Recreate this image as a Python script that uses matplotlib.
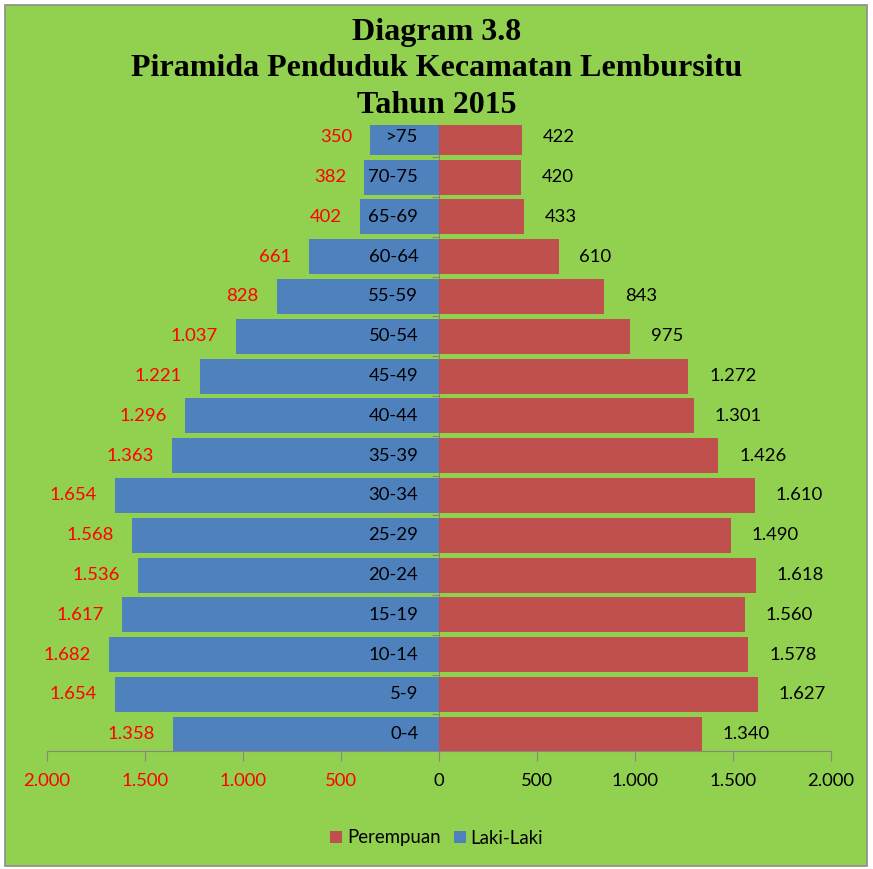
import matplotlib
matplotlib.use('Agg')
import matplotlib.pyplot as plt
from matplotlib.patches import Rectangle, Patch
import numpy as np

# data
ages = ['0-4', '5-9', '10-14', '15-19', '20-24', '25-29', '30-34', '35-39',
        '40-44', '45-49', '50-54', '55-59', '60-64', '65-69', '70-75', '>75']
laki = [1358, 1654, 1682, 1617, 1536, 1568, 1654, 1363, 1296, 1221, 1037, 828, 661, 402, 382, 350]
perempuan = [1340, 1627, 1578, 1560, 1618, 1490, 1610, 1426, 1301, 1272, 975, 843, 610, 433, 420, 422]
x_ticks = [-2000, -1500, -1000, -500, 0, 500, 1000, 1500, 2000]

BLUE = '#4F81BD'
RED = '#C0504D'
GREEN = '#92D050'
GRAY = '#868686'
FS = 13.3

plt.rcParams['font.family'] = ['Lato', 'DejaVu Sans']


def fmt(v):
    return f'{abs(v):,}'.replace(',', '.')


fig = plt.figure(figsize=(8.73, 8.69), dpi=100)
fig.patch.set_facecolor('white')
fig.patches.append(Rectangle((5 / 873, 3 / 869), 862 / 873, 861 / 869, transform=fig.transFigure,
                             facecolor=GREEN, edgecolor='#8c8c8c', lw=1.2, zorder=-1))

# plot area: bottom axis at y=751 px, top clipped at y=125 px
ax = fig.add_axes([47 / 873, 1 - 751 / 869, 784 / 873, 626 / 869])
ax.set_facecolor('none')

y = np.arange(len(ages))
ax.barh(y, [-v for v in laki], height=0.88, color=BLUE, zorder=3)
ax.barh(y, perempuan, height=0.88, color=RED, zorder=3)

ax.set_xlim(-2000, 2000)
ax.set_ylim(-0.42, -0.42 + 626 / 39.8)

for s in ['top', 'right']:
    ax.spines[s].set_visible(False)
ax.spines['bottom'].set_color(GRAY)
ax.spines['left'].set_position(('data', 0))
ax.spines['left'].set_color(GRAY)

ax.set_yticks(np.arange(0.5, len(ages) - 1, 1.0))
ax.set_yticklabels([])
ax.tick_params(axis='y', direction='out', length=5, color=GRAY)

ax.set_xticks(x_ticks)
ax.set_xticklabels([fmt(t) for t in x_ticks], fontsize=FS)
ax.tick_params(axis='x', direction='out', length=7, color=GRAY, pad=9)
for lbl, t in zip(ax.get_xticklabels(), x_ticks):
    lbl.set_color('red' if t < 0 else 'black')

for i in range(len(ages)):
    ax.annotate(ages[i], (0, i), xytext=(-15, 0), textcoords='offset points',
                ha='right', va='center', fontsize=FS, zorder=4)
    ax.annotate(fmt(laki[i]), (-laki[i], i), xytext=(-13, 0), textcoords='offset points',
                ha='right', va='center', fontsize=FS, color='red', zorder=4)
    ax.annotate(fmt(perempuan[i]), (perempuan[i], i), xytext=(15, 0), textcoords='offset points',
                ha='left', va='center', fontsize=FS, color='black', zorder=4)

fig.text(0.5, 1 - 69 / 869, 'Diagram 3.8\nPiramida Penduduk Kecamatan Lembursitu\nTahun 2015',
         ha='center', va='center', fontsize=23, fontweight='bold', family='Liberation Serif',
         linespacing=1.36)

handles = [Patch(facecolor=RED, label='Perempuan'), Patch(facecolor=BLUE, label='Laki-Laki')]
fig.legend(handles=handles, loc='center', bbox_to_anchor=(0.5, 1 - 838 / 869), ncol=2,
           frameon=False, fontsize=13.4, handlelength=0.65, handleheight=0.65,
           handletextpad=0.25, columnspacing=0.7)

fig.savefig('out.png', dpi=100, facecolor=fig.get_facecolor())
